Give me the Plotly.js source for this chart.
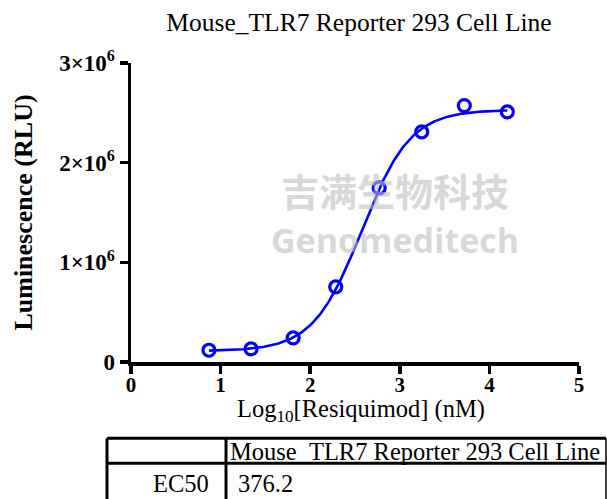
<!DOCTYPE html>
<html>
<head>
<meta charset="utf-8">
<script src="https://cdn.plot.ly/plotly-3.0.1.min.js"></script>
<style>html,body{margin:0;padding:0;background:#fff;}#chart{width:607px;height:499px;}</style>
</head>
<body>
<div id="chart"></div>
<script>
// ---- data ----
const logConc = [0.87, 1.34, 1.81, 2.285, 2.77, 3.245, 3.72, 4.20];
const lumi = [0.118e6, 0.132e6, 0.243e6, 0.754e6, 1.747e6, 2.309e6, 2.573e6, 2.51e6];
// 4PL fit parameters (EC50 from the table)
const fitBottom = 0.11e6;
const fitTop = 2.53e6;
const ec50 = 376.2;
const hillSlope = 1.6;
const yTickVals = [0, 1e6, 2e6, 3e6];
const yTickText = ['0', '1×10<sup>6</sup>', '2×10<sup>6</sup>', '3×10<sup>6</sup>'];
const xTickVals = [0, 1, 2, 3, 4, 5];
const xTitle = 'Log<sub>10</sub>[Resiquimod] (nM)';
const tableHeader = 'Mouse_TLR7 Reporter 293 Cell Line';
const tableRowLabels = ['EC50'];
const tableRowValues = ['376.2'];

// fitted curve from the 4PL parameters
const logEC50 = Math.log10(ec50);
const curveX = [], curveY = [];
const x0 = logConc[0], x1 = logConc[logConc.length - 1];
for (let i = 0; i <= 200; i++) {
  const x = x0 + (x1 - x0) * i / 200;
  curveX.push(x);
  curveY.push(fitBottom + (fitTop - fitBottom) / (1 + Math.pow(10, (logEC50 - x) * hillSlope)));
}

// plot-area geometry (pixels)
const W = 607, H = 499;
const L = 131, R = 28, T = 63, B = 136.5;
const pw = W - L - R, ph = H - T - B;
const px = v => (v - L) / pw;     // pixel x -> paper x
const py = v => (H - B - v) / ph; // pixel y -> paper y

const serif = 'Liberation Serif, Times New Roman, serif';
const blue = '#0000FF';

const traces = [
  {x: curveX, y: curveY, mode: 'lines', line: {color: blue, width: 2.6}, hoverinfo: 'skip', showlegend: false},
  {x: logConc, y: lumi, mode: 'markers', cliponaxis: false,
   marker: {symbol: 'circle-open', size: 12, color: blue, line: {color: blue, width: 3.2}}, showlegend: false}
];

const tblTop = 439, tblMid = 464, tblLeft = 107, tblDiv = 226, tblRight = 606, tblBottom = 520;
const shapes = [
  {type: 'line', xref: 'paper', yref: 'paper', x0: px(tblLeft), x1: px(tblRight), y0: py(tblTop), y1: py(tblTop), line: {color: '#000', width: 3}},
  {type: 'line', xref: 'paper', yref: 'paper', x0: px(tblLeft), x1: px(tblRight), y0: py(tblMid), y1: py(tblMid), line: {color: '#000', width: 3}},
  {type: 'line', xref: 'paper', yref: 'paper', x0: px(tblLeft), x1: px(tblLeft), y0: py(tblTop), y1: py(tblBottom), line: {color: '#000', width: 3}},
  {type: 'line', xref: 'paper', yref: 'paper', x0: px(tblDiv), x1: px(tblDiv), y0: py(tblTop), y1: py(tblBottom), line: {color: '#000', width: 3}},
  {type: 'line', xref: 'paper', yref: 'paper', x0: px(tblRight), x1: px(tblRight), y0: py(tblTop), y1: py(tblBottom), line: {color: '#000', width: 1.5}}
];

const annotations = [
  // watermark
  {text: '<b>吉满生物科技</b>', xref: 'paper', yref: 'paper', x: px(395), y: py(190), showarrow: false,
   font: {family: 'Noto Sans CJK SC', size: 38, color: 'rgba(190,190,190,0.6)'}},
  {text: '<b>Genomeditech</b>', xref: 'paper', yref: 'paper', x: px(395), y: py(240), showarrow: false,
   font: {family: 'Open Sans, Noto Sans, sans-serif', size: 34, color: 'rgba(190,190,190,0.6)'}},
  // x-axis title
  {text: xTitle, xref: 'paper', yref: 'paper', x: px(361), y: py(411.5), xanchor: 'center', yanchor: 'middle', showarrow: false,
   font: {family: serif, size: 24.5, color: '#000'}},
  // table text
  {text: tableHeader, xref: 'paper', yref: 'paper', x: px(228), y: py(452), xanchor: 'left', yanchor: 'middle', showarrow: false,
   font: {family: serif, size: 24.5, color: '#000'}},
  {text: tableRowLabels[0], xref: 'paper', yref: 'paper', x: px(211), y: py(484), xanchor: 'right', yanchor: 'middle', showarrow: false,
   font: {family: serif, size: 24.5, color: '#000'}},
  {text: tableRowValues[0], xref: 'paper', yref: 'paper', x: px(236), y: py(484), xanchor: 'left', yanchor: 'middle', showarrow: false,
   font: {family: serif, size: 24.5, color: '#000'}}
];

const layout = {
  width: W, height: H,
  margin: {l: L, r: R, t: T, b: B},
  paper_bgcolor: '#fff', plot_bgcolor: 'rgba(0,0,0,0)',
  title: {text: 'Mouse_TLR7 Reporter 293 Cell Line', font: {family: serif, size: 25.5, color: '#000'},
          x: 359 / W, xanchor: 'center', xref: 'container', y: 1 - 22 / H, yanchor: 'middle', yref: 'container'},
  xaxis: {range: [0, 5], tickvals: xTickVals, ticktext: xTickVals.map(v => '<b>' + v + '</b>'),
          showgrid: false, zeroline: false, showline: true, linecolor: '#000', linewidth: 3.5,
          ticks: 'outside', ticklen: 8, tickwidth: 3.5, tickcolor: '#000', ticklabelstandoff: -7,
          tickfont: {family: serif, size: 21, color: '#000'}},
  yaxis: {range: [0, 3e6], tickvals: yTickVals, ticktext: yTickText.map(t => '<b>' + t + '</b>'),
          showgrid: false, zeroline: false, showline: true, linecolor: '#000', linewidth: 3.5,
          ticks: 'outside', ticklen: 8, tickwidth: 3.5, tickcolor: '#000',
          tickfont: {family: serif, size: 23, color: '#000'},
          title: {text: '<b>Luminescence (RLU)</b>', font: {family: serif, size: 26, color: '#000'}, standoff: 20}},
  shapes: shapes,
  annotations: annotations,
  showlegend: false
};

Plotly.newPlot('chart', traces, layout, {displayModeBar: false, staticPlot: true});
</script>
</body>
</html>
